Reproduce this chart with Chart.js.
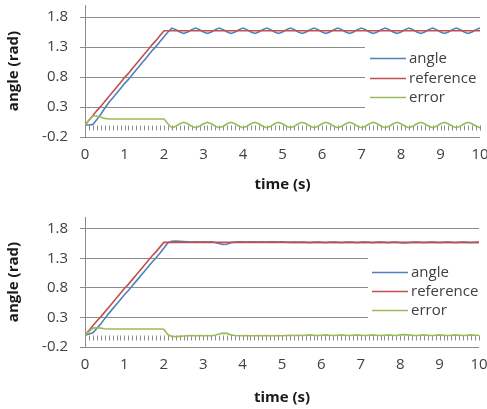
<!DOCTYPE html>
<html>
<head>
<meta charset="utf-8">
<script src="https://cdn.jsdelivr.net/npm/chart.js@4.4.1/dist/chart.umd.min.js"></script>
<style>
html, body { margin: 0; padding: 0; background: #fff; }
#wrap { position: relative; width: 487px; height: 409px; }
.box { position: absolute; left: 0; width: 487px; }
</style>
</head>
<body>
<div id="wrap">
  <div class="box" style="top:0;height:200px"><canvas id="c1" width="487" height="200"></canvas></div>
  <div class="box" style="top:200px;height:209px"><canvas id="c2" width="487" height="209"></canvas></div>
</div>
<script>
// time axis, one sample every 0.1 s
var time = [
  0, 0.1, 0.2, 0.3, 0.4, 0.5, 0.6, 0.7, 0.8, 0.9,
  1, 1.1, 1.2, 1.3, 1.4, 1.5, 1.6, 1.7, 1.8, 1.9,
  2, 2.1, 2.2, 2.3, 2.4, 2.5, 2.6, 2.7, 2.8, 2.9,
  3, 3.1, 3.2, 3.3, 3.4, 3.5, 3.6, 3.7, 3.8, 3.9,
  4, 4.1, 4.2, 4.3, 4.4, 4.5, 4.6, 4.7, 4.8, 4.9,
  5, 5.1, 5.2, 5.3, 5.4, 5.5, 5.6, 5.7, 5.8, 5.9,
  6, 6.1, 6.2, 6.3, 6.4, 6.5, 6.6, 6.7, 6.8, 6.9,
  7, 7.1, 7.2, 7.3, 7.4, 7.5, 7.6, 7.7, 7.8, 7.9,
  8, 8.1, 8.2, 8.3, 8.4, 8.5, 8.6, 8.7, 8.8, 8.9,
  9, 9.1, 9.2, 9.3, 9.4, 9.5, 9.6, 9.7, 9.8, 9.9,
  10
];
var yTicks = [-0.2, 0.3, 0.8, 1.3, 1.8];
var xTicks = [0, 1, 2, 3, 4, 5, 6, 7, 8, 9, 10];
var seriesNames = ["angle", "reference", "error"];
var seriesColors = ["#4f81bd", "#c0504d", "#9bbb59"];

// reference ramp, same in both runs
var reference = [
  0, 0.08, 0.16, 0.24, 0.31, 0.39, 0.47, 0.55, 0.63, 0.71,
  0.79, 0.86, 0.94, 1.02, 1.10, 1.18, 1.26, 1.34, 1.41, 1.49,
  1.57, 1.57, 1.57, 1.57, 1.57, 1.57, 1.57, 1.57, 1.57, 1.57,
  1.57, 1.57, 1.57, 1.57, 1.57, 1.57, 1.57, 1.57, 1.57, 1.57,
  1.57, 1.57, 1.57, 1.57, 1.57, 1.57, 1.57, 1.57, 1.57, 1.57,
  1.57, 1.57, 1.57, 1.57, 1.57, 1.57, 1.57, 1.57, 1.57, 1.57,
  1.57, 1.57, 1.57, 1.57, 1.57, 1.57, 1.57, 1.57, 1.57, 1.57,
  1.57, 1.57, 1.57, 1.57, 1.57, 1.57, 1.57, 1.57, 1.57, 1.57,
  1.57, 1.57, 1.57, 1.57, 1.57, 1.57, 1.57, 1.57, 1.57, 1.57,
  1.57, 1.57, 1.57, 1.57, 1.57, 1.57, 1.57, 1.57, 1.57, 1.57,
  1.57
];

// top run
var angleTop = [
  0, 0, 0.01, 0.09, 0.18, 0.28, 0.37, 0.45, 0.53, 0.61,
  0.69, 0.76, 0.84, 0.92, 1.00, 1.08, 1.16, 1.24, 1.31, 1.39,
  1.47, 1.55, 1.615, 1.59, 1.55, 1.525, 1.55, 1.59, 1.615, 1.59,
  1.55, 1.525, 1.55, 1.59, 1.615, 1.59, 1.55, 1.525, 1.55, 1.59,
  1.615, 1.59, 1.55, 1.525, 1.55, 1.59, 1.615, 1.59, 1.55, 1.525,
  1.55, 1.59, 1.615, 1.59, 1.55, 1.525, 1.55, 1.59, 1.615, 1.59,
  1.55, 1.525, 1.55, 1.59, 1.615, 1.59, 1.55, 1.525, 1.55, 1.59,
  1.615, 1.59, 1.55, 1.525, 1.55, 1.59, 1.615, 1.59, 1.55, 1.525,
  1.55, 1.59, 1.615, 1.59, 1.55, 1.525, 1.55, 1.59, 1.615, 1.59,
  1.55, 1.525, 1.55, 1.59, 1.615, 1.59, 1.55, 1.525, 1.55, 1.59,
  1.615
];
var errorTop = [
  0, 0.08, 0.15, 0.15, 0.13, 0.11, 0.10, 0.10, 0.10, 0.10,
  0.10, 0.10, 0.10, 0.10, 0.10, 0.10, 0.10, 0.10, 0.10, 0.10,
  0.10, 0.02, -0.045, -0.02, 0.02, 0.045, 0.02, -0.02, -0.045, -0.02,
  0.02, 0.045, 0.02, -0.02, -0.045, -0.02, 0.02, 0.045, 0.02, -0.02,
  -0.045, -0.02, 0.02, 0.045, 0.02, -0.02, -0.045, -0.02, 0.02, 0.045,
  0.02, -0.02, -0.045, -0.02, 0.02, 0.045, 0.02, -0.02, -0.045, -0.02,
  0.02, 0.045, 0.02, -0.02, -0.045, -0.02, 0.02, 0.045, 0.02, -0.02,
  -0.045, -0.02, 0.02, 0.045, 0.02, -0.02, -0.045, -0.02, 0.02, 0.045,
  0.02, -0.02, -0.045, -0.02, 0.02, 0.045, 0.02, -0.02, -0.045, -0.02,
  0.02, 0.045, 0.02, -0.02, -0.045, -0.02, 0.02, 0.045, 0.02, -0.02,
  -0.045
];

// bottom run
var angleBottom = [
  0, 0.02, 0.04, 0.115, 0.19, 0.28, 0.365, 0.445, 0.525, 0.605,
  0.685, 0.755, 0.835, 0.915, 0.995, 1.075, 1.155, 1.235, 1.305, 1.385,
  1.47, 1.56, 1.59, 1.595, 1.59, 1.585, 1.58, 1.575, 1.58, 1.575,
  1.58, 1.575, 1.58, 1.57, 1.55, 1.535, 1.54, 1.565, 1.575, 1.58,
  1.58, 1.575, 1.58, 1.58, 1.575, 1.58, 1.575, 1.58, 1.58, 1.575,
  1.58, 1.575, 1.57, 1.575, 1.57, 1.575, 1.57, 1.565, 1.57, 1.575,
  1.57, 1.565, 1.57, 1.575, 1.57, 1.565, 1.57, 1.575, 1.57, 1.565,
  1.57, 1.575, 1.57, 1.565, 1.57, 1.575, 1.57, 1.565, 1.57, 1.575,
  1.565, 1.56, 1.565, 1.57, 1.575, 1.57, 1.565, 1.57, 1.575, 1.57,
  1.565, 1.57, 1.575, 1.57, 1.565, 1.57, 1.575, 1.57, 1.565, 1.57,
  1.57
];
var errorBottom = [
  0, 0.06, 0.12, 0.125, 0.12, 0.11, 0.105, 0.105, 0.105, 0.105,
  0.105, 0.105, 0.105, 0.105, 0.105, 0.105, 0.105, 0.105, 0.105, 0.105,
  0.10, 0.01, -0.02, -0.025, -0.02, -0.015, -0.01, -0.005, -0.01, -0.005,
  -0.01, -0.005, -0.01, 0, 0.02, 0.035, 0.03, 0.005, -0.005, -0.01,
  -0.01, -0.005, -0.01, -0.01, -0.005, -0.01, -0.005, -0.01, -0.01, -0.005,
  -0.01, -0.005, 0, -0.005, 0, -0.005, 0, 0.005, 0, -0.005,
  0, 0.005, 0, -0.005, 0, 0.005, 0, -0.005, 0, 0.005,
  0, -0.005, 0, 0.005, 0, -0.005, 0, 0.005, 0, -0.005,
  0.005, 0.01, 0.005, 0, -0.005, 0, 0.005, 0, -0.005, 0,
  0.005, 0, -0.005, 0, 0.005, 0, -0.005, 0, 0.005, 0,
  0
];

Chart.defaults.font.family = "'Open Sans', sans-serif";
Chart.defaults.font.size = 15;
Chart.defaults.color = "#404040";

// small category ticks hanging from y = 0, one per sample
var zeroTicks = {
  id: "zeroTicks",
  beforeDatasetsDraw: function(chart) {
    var ctx = chart.ctx, xs = chart.scales.x, ys = chart.scales.y;
    var y0 = Math.round(ys.getPixelForValue(0)) + 0.5;
    ctx.save();
    ctx.strokeStyle = "#8c8c8c"; ctx.lineWidth = 1;
    ctx.beginPath();
    time.forEach(function(t) {
      var x = Math.round(xs.getPixelForValue(t)) + 0.5;
      ctx.moveTo(x, y0); ctx.lineTo(x, y0 + 5);
    });
    ctx.stroke();
    ctx.restore();
  }
};

// legend sitting inside the plot, on a white patch
var boxLegend = {
  id: "boxLegend",
  afterDraw: function(chart, args, opts) {
    var ctx = chart.ctx;
    ctx.save();
    ctx.fillStyle = "#fff";
    ctx.fillRect(opts.left, opts.top, chart.width - opts.left, opts.height);
    ctx.font = "15px 'Open Sans'"; ctx.textBaseline = "middle"; ctx.textAlign = "left";
    chart.data.datasets.forEach(function(ds, i) {
      var y = Math.round(opts.firstY + i * opts.step) + 0.5;
      ctx.strokeStyle = ds.borderColor; ctx.lineWidth = 1.5;
      ctx.beginPath(); ctx.moveTo(opts.lineX, y); ctx.lineTo(opts.lineX + 36, y); ctx.stroke();
      ctx.fillStyle = "#404040";
      ctx.fillText(ds.label, opts.lineX + 39, y);
    });
    ctx.restore();
  }
};

function makeChart(id, series, pad, xHeight, titlePad, legendOpts) {
  var datasets = series.map(function(arr, i) {
    return {
      label: seriesNames[i],
      data: time.map(function(t, j) { return { x: t, y: arr[j] }; }),
      borderColor: seriesColors[i], backgroundColor: seriesColors[i],
      borderWidth: 1.6, pointRadius: 0, tension: 0, fill: false,
      order: 3 - i
    };
  });
  return new Chart(document.getElementById(id), {
    type: "line",
    data: { datasets: datasets },
    plugins: [zeroTicks, boxLegend],
    options: {
      responsive: false,
      animation: false,
      layout: { padding: pad },
      scales: {
        x: {
          type: "linear", min: 0, max: 10,
          afterBuildTicks: function(s) { s.ticks = xTicks.map(function(v) { return { value: v }; }); },
          grid: { display: false, drawTicks: false }, border: { display: false },
          ticks: { padding: 9, maxRotation: 0, autoSkip: false },
          title: { display: true, text: "time (s)", color: "#1a1a1a", font: { size: 15, weight: "bold" }, padding: { top: 0, bottom: titlePad } },
          afterFit: function(s) { s.height = xHeight; s.paddingLeft = 0; s.paddingRight = 0; }
        },
        y: {
          min: -0.2, max: 2.0,
          afterBuildTicks: function(s) { s.ticks = yTicks.map(function(v) { return { value: v }; }); },
          grid: { color: "#8c8c8c", tickLength: 5, drawTicks: true },
          border: { display: true, color: "#8c8c8c" },
          ticks: { padding: 12, callback: function(v) { return v.toFixed(1); } },
          title: { display: true, text: "angle (rad)", color: "#1a1a1a", font: { size: 15, weight: "bold" }, padding: { top: 5, bottom: 0 } },
          afterFit: function(s) { s.width = 85; s.paddingTop = 0; s.paddingBottom = 0; }
        }
      },
      plugins: {
        legend: { display: false },
        tooltip: { enabled: false },
        boxLegend: legendOpts
      }
    }
  });
}

makeChart("c1", [angleTop, reference, errorTop], { top: 5, right: 7, left: 0, bottom: 0 }, 63, 6,
  { left: 365, top: 38, height: 78, lineX: 370, firstY: 58, step: 19.5 });
makeChart("c2", [angleBottom, reference, errorBottom], { top: 17, right: 8, left: 0, bottom: 0 }, 62, 2,
  { left: 368, top: 52, height: 76, lineX: 372, firstY: 72, step: 19 });
</script>
</body>
</html>
